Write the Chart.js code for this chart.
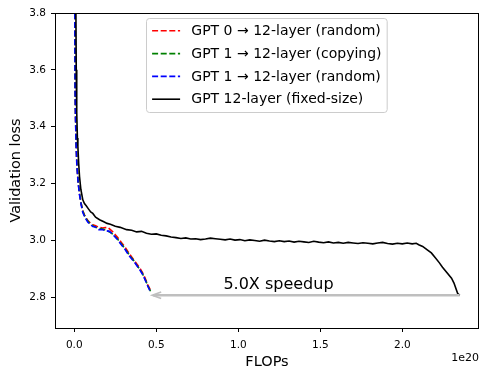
<!DOCTYPE html>
<html lang="en">
  <head>
    <meta charset="UTF-8" />
    <title>Validation loss vs FLOPs</title>
    <script src="https://cdn.jsdelivr.net/npm/chart.js@4.4.1/dist/chart.umd.min.js"></script>
    <style>
      body { margin: 0; background: #fff; }
      #wrap { width: 488px; height: 377px; }
    </style>
  </head>
  <body>
    <div id="wrap"><canvas id="lossChart" width="488" height="377"></canvas></div>

    <script>
      // FLOPs in units of 1e20
      const redX = [0.003, 0.004, 0.005, 0.008, 0.011, 0.016, 0.024, 0.032, 0.042, 0.052, 0.062, 0.072, 0.083, 0.095, 0.113, 0.13, 0.15, 0.173, 0.19, 0.205, 0.22, 0.235, 0.25, 0.265, 0.287, 0.31, 0.337, 0.36, 0.38, 0.398, 0.415, 0.43, 0.449, 0.467];
      const redY = [3.95, 3.75, 3.54, 3.43, 3.35, 3.27, 3.205, 3.165, 3.13, 3.104, 3.09, 3.079, 3.07, 3.063, 3.055, 3.052, 3.046, 3.044, 3.045, 3.046, 3.038, 3.03, 3.02, 3.01, 2.993, 2.976, 2.952, 2.934, 2.918, 2.904, 2.888, 2.87, 2.843, 2.822];

      const greenX = [0.003, 0.004, 0.005, 0.008, 0.011, 0.016, 0.024, 0.032, 0.042, 0.052, 0.062, 0.072, 0.083, 0.095, 0.113, 0.13, 0.15, 0.173, 0.195, 0.215, 0.23, 0.246, 0.265, 0.287, 0.31, 0.337, 0.36, 0.38, 0.398, 0.415, 0.43, 0.449, 0.465];
      const greenY = [3.95, 3.75, 3.54, 3.43, 3.35, 3.27, 3.205, 3.165, 3.13, 3.103, 3.088, 3.077, 3.068, 3.06, 3.052, 3.046, 3.042, 3.04, 3.035, 3.03, 3.024, 3.016, 3.004, 2.988, 2.97, 2.948, 2.931, 2.914, 2.9, 2.884, 2.866, 2.84, 2.821];

      const blueX = [0.003, 0.004, 0.005, 0.008, 0.011, 0.016, 0.024, 0.032, 0.042, 0.052, 0.062, 0.072, 0.083, 0.095, 0.113, 0.13, 0.15, 0.173, 0.195, 0.215, 0.23, 0.246, 0.265, 0.287, 0.31, 0.337, 0.36, 0.38, 0.398, 0.415, 0.43, 0.449, 0.463];
      const blueY = [3.95, 3.75, 3.53, 3.42, 3.34, 3.26, 3.2, 3.16, 3.125, 3.098, 3.085, 3.074, 3.064, 3.058, 3.049, 3.047, 3.038, 3.038, 3.034, 3.032, 3.024, 3.014, 3.002, 2.985, 2.968, 2.944, 2.928, 2.913, 2.898, 2.882, 2.864, 2.838, 2.821];

      const blackX = [0.007, 0.01, 0.012, 0.015, 0.019, 0.022, 0.027, 0.032, 0.04, 0.052, 0.062, 0.073, 0.085, 0.1, 0.113, 0.13, 0.154, 0.18, 0.2, 0.22, 0.25, 0.28, 0.319, 0.35, 0.38, 0.41, 0.44, 0.47, 0.5, 0.53, 0.56, 0.59, 0.62, 0.65, 0.68, 0.71, 0.74, 0.77, 0.8, 0.83, 0.86, 0.89, 0.92, 0.95, 0.98, 1.01, 1.04, 1.07, 1.1, 1.13, 1.16, 1.19, 1.22, 1.25, 1.28, 1.31, 1.34, 1.37, 1.4, 1.43, 1.46, 1.49, 1.52, 1.55, 1.58, 1.61, 1.64, 1.67, 1.7, 1.73, 1.76, 1.79, 1.82, 1.85, 1.88, 1.91, 1.94, 1.97, 2.0, 2.03, 2.06, 2.085, 2.1, 2.124, 2.15, 2.177, 2.2, 2.225, 2.245, 2.27, 2.3, 2.315, 2.337, 2.35];
      const blackY = [3.95, 3.8, 3.6, 3.45, 3.36, 3.33, 3.27, 3.225, 3.18, 3.143, 3.13, 3.122, 3.112, 3.1, 3.095, 3.082, 3.073, 3.066, 3.06, 3.057, 3.05, 3.046, 3.038, 3.036, 3.03, 3.032, 3.025, 3.022, 3.023, 3.018, 3.016, 3.012, 3.01, 3.007, 3.009, 3.005, 3.006, 3.003, 3.005, 3.008, 3.006, 3.004, 3.002, 3.005, 3.001, 3.003, 2.999, 3.002, 3.0, 2.997, 3.001, 2.998, 2.996, 2.999, 2.996, 2.998, 2.994, 2.997, 2.995, 2.993, 2.997, 2.994, 2.992, 2.995, 2.991, 2.993, 2.99, 2.993, 2.991, 2.989, 2.992, 2.99, 2.988, 2.991, 2.993, 2.989, 2.987, 2.99, 2.988, 2.991, 2.988, 2.99, 2.985, 2.979, 2.968, 2.956, 2.94, 2.922, 2.906, 2.888, 2.867, 2.85, 2.814, 2.807];

      const seriesLabels = [
        "GPT 0 → 12-layer (random)",
        "GPT 1 → 12-layer (copying)",
        "GPT 1 → 12-layer (random)",
        "GPT 12-layer (fixed-size)",
      ];
      const xTicks = [0.0, 0.5, 1.0, 1.5, 2.0];
      const yTicks = [2.8, 3.0, 3.2, 3.4, 3.6, 3.8];

      // speedup arrow: from end of fixed-size run to end of grown runs
      const arrowFrom = [2.35, 2.807];
      const arrowTo = [0.475, 2.807];
      const arrowText = "5.0X speedup";
      const arrowTextAt = [1.245, 2.83];

      const FONT = "'DejaVu Sans', sans-serif";

      function toPoints(xs, ys) {
        return xs.map((x, i) => ({ x: x, y: ys[i] }));
      }

      const colors = ["#ff0000", "#008000", "#0000ff", "#000000"];
      const dashed = [true, true, true, false];
      const allData = [
        toPoints(redX, redY),
        toPoints(greenX, greenY),
        toPoints(blueX, blueY),
        toPoints(blackX, blackY),
      ];

      const datasets = allData.map((d, i) => ({
        label: seriesLabels[i],
        data: d,
        borderColor: colors[i],
        borderWidth: 1.6,
        borderDash: dashed[i] ? [6, 2.6] : [],
        pointRadius: 0,
        tension: 0,
        fill: false,
        clip: 0,
        order: 3 - i,
      }));

      const framePlugin = {
        id: "frame",
        afterDatasetsDraw(chart) {
          const { ctx, chartArea: a, scales } = chart;
          const sx = scales.x;
          const sy = scales.y;

          // arrow
          const x1 = sx.getPixelForValue(arrowFrom[0]);
          const y1 = sy.getPixelForValue(arrowFrom[1]);
          const x2 = sx.getPixelForValue(arrowTo[0]);
          const y2 = sy.getPixelForValue(arrowTo[1]);
          ctx.save();
          ctx.strokeStyle = "#bfbfbf";
          ctx.lineWidth = 2.4;
          ctx.lineCap = "butt";
          ctx.beginPath();
          ctx.moveTo(x1, y1);
          ctx.lineTo(x2 + 1, y2);
          ctx.stroke();
          ctx.lineWidth = 1.6;
          ctx.beginPath();
          ctx.moveTo(x2 + 9, y2 - 3.2);
          ctx.lineTo(x2, y2);
          ctx.lineTo(x2 + 9, y2 + 3.2);
          ctx.stroke();

          ctx.fillStyle = "#000";
          ctx.font = "16px " + FONT;
          ctx.textAlign = "center";
          ctx.textBaseline = "alphabetic";
          ctx.fillText(arrowText, sx.getPixelForValue(arrowTextAt[0]), sy.getPixelForValue(arrowTextAt[1]));

          // axes box
          ctx.strokeStyle = "#000";
          ctx.lineWidth = 1;
          ctx.strokeRect(Math.round(a.left) + 0.5, Math.round(a.top) + 0.5,
            Math.round(a.right - a.left) - 1, Math.round(a.bottom - a.top));

          // offset text
          ctx.font = "11px " + FONT;
          ctx.textAlign = "right";
          ctx.textBaseline = "middle";
          ctx.fillText("1e20", a.right, 358);
          ctx.restore();
        },
        afterDraw(chart) {
          const { ctx } = chart;
          ctx.save();
          ctx.font = "14px " + FONT;
          let maxW = 0;
          seriesLabels.forEach((t) => { maxW = Math.max(maxW, ctx.measureText(t).width); });
          const bx = 146.5, by = 18.5;
          const bw = 5.6 + 28 + 11.2 + maxW + 5.6;
          const bh = 94;
          ctx.fillStyle = "rgba(255,255,255,0.8)";
          ctx.strokeStyle = "#cccccc";
          ctx.lineWidth = 1;
          ctx.beginPath();
          ctx.roundRect(bx, by, bw, bh, 3);
          ctx.fill();
          ctx.stroke();

          seriesLabels.forEach((t, i) => {
            const cy = by + 12.3 + i * 22.8;
            ctx.strokeStyle = colors[i];
            ctx.lineWidth = 1.6;
            ctx.setLineDash(dashed[i] ? [6, 2.6] : []);
            ctx.beginPath();
            ctx.moveTo(bx + 5.6, cy);
            ctx.lineTo(bx + 5.6 + 28, cy);
            ctx.stroke();
            ctx.setLineDash([]);
            ctx.fillStyle = "#000";
            ctx.textAlign = "left";
            ctx.textBaseline = "middle";
            ctx.fillText(t, bx + 5.6 + 28 + 11.2, cy + 0.5);
          });
          ctx.restore();
        },
      };

      const ctx = document.getElementById("lossChart").getContext("2d");
      new Chart(ctx, {
        type: "line",
        data: { datasets: datasets },
        options: {
          responsive: false,
          animation: false,
          devicePixelRatio: 1,
          layout: { padding: { left: 0, right: 9, top: 13, bottom: 0 } },
          plugins: {
            legend: { display: false },
            tooltip: { enabled: false },
          },
          scales: {
            x: {
              type: "linear",
              min: -0.1175,
              max: 2.4675,
              afterBuildTicks: (scale) => { scale.ticks = xTicks.map((v) => ({ value: v })); },
              afterFit: (scale) => { scale.height = 49; },
              grid: { drawOnChartArea: false, drawTicks: true, tickLength: 4, color: "#000", lineWidth: 1 },
              border: { display: false },
              ticks: {
                color: "#000",
                font: { family: FONT, size: 10.5 },
                padding: 7,
                maxRotation: 0,
                autoSkip: false,
                callback: (v) => Number(v).toFixed(1),
              },
              title: {
                display: true,
                text: "FLOPs",
                color: "#000",
                font: { family: FONT, size: 14.5 },
                padding: { top: 0, bottom: 6 },
              },
            },
            y: {
              type: "linear",
              min: 2.692,
              max: 3.8,
              afterBuildTicks: (scale) => { scale.ticks = yTicks.map((v) => ({ value: v })); },
              afterFit: (scale) => { scale.width = 55; },
              grid: { drawOnChartArea: false, drawTicks: true, tickLength: 4, color: "#000", lineWidth: 1 },
              border: { display: false },
              ticks: {
                color: "#000",
                font: { family: FONT, size: 10.5 },
                padding: 5,
                autoSkip: false,
                callback: (v) => Number(v).toFixed(1),
              },
              title: {
                display: true,
                text: "Validation loss",
                color: "#000",
                font: { family: FONT, size: 14.5 },
                padding: { top: 8, bottom: 0 },
              },
            },
          },
        },
        plugins: [framePlugin],
      });
    </script>
  </body>
</html>
